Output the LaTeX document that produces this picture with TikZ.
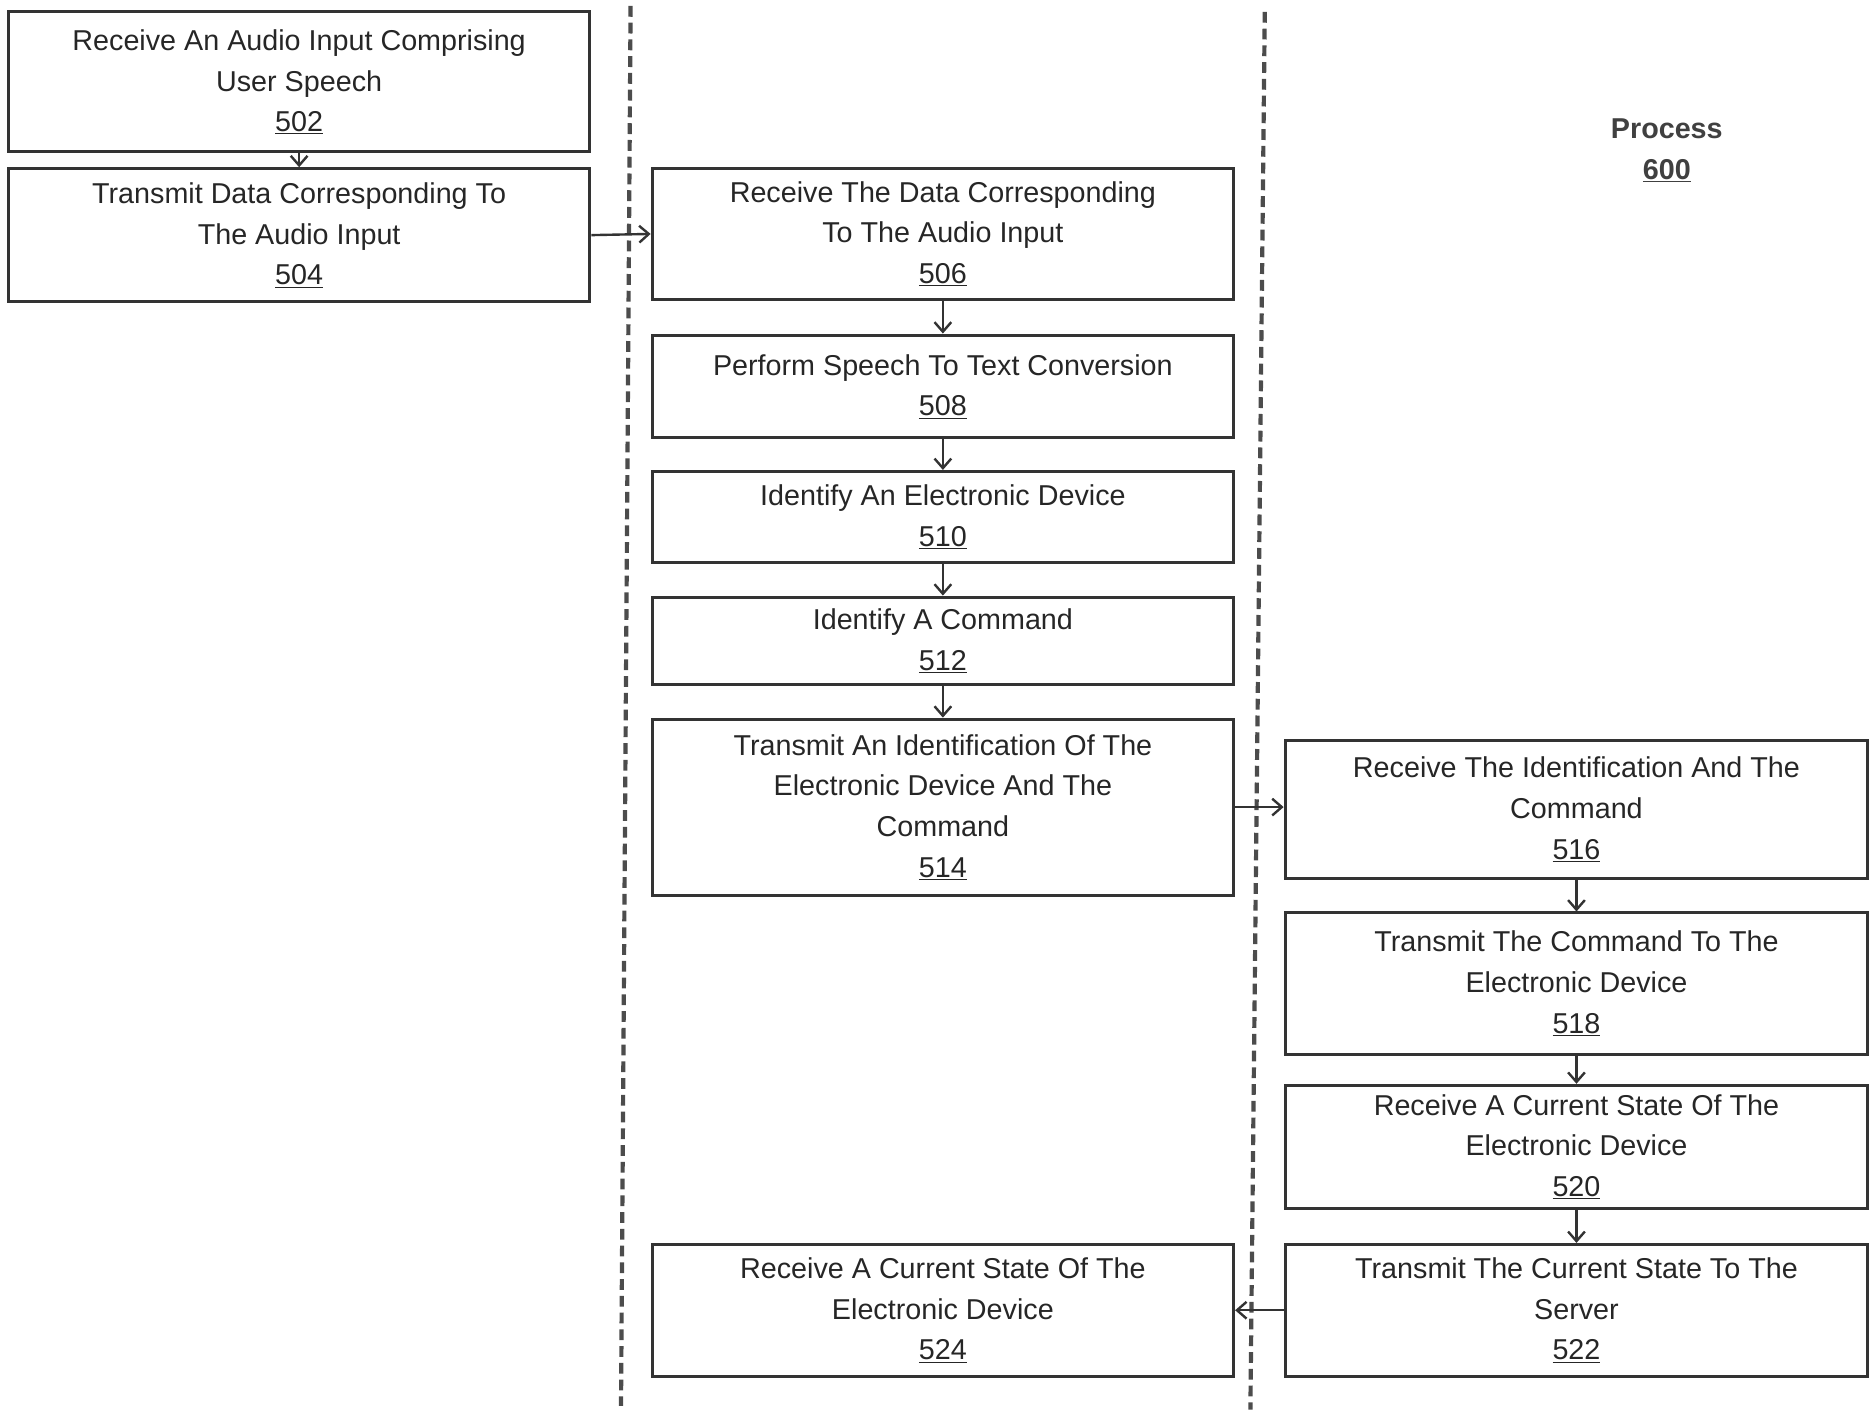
\documentclass[tikz,border=0pt]{standalone}
\usepackage{fontspec}
\setmainfont{Liberation Sans}
\usetikzlibrary{arrows.meta}
\begin{document}
\begin{tikzpicture}[x=1pt,y=-1pt,
  box/.style={draw=black!80,line width=2.5pt,align=center,font=\fontsize{24}{34}\selectfont,text=black!85,inner sep=0pt},
  arr/.style={draw=black!80,line width=2pt,-{Straight Barb[length=8pt,width=14pt]}},
  sep/.style={draw=black!70,line width=3.5pt,dash pattern=on 9pt off 5pt}]
\useasboundingbox (0,0) rectangle (1567,1180);
\tikzset{mk/.code args={#1/#2/#3/#4/#5/#6}{}}
\newcommand{\bx}[6]{\node[box,minimum width=#3-#2,minimum height=#5-#4] (#1) at ({(#2+#3)/2},{(#4+#5)/2}) {#6};}
\bx{n502}{7}{493}{10}{127}{Receive An Audio Input Comprising\\User Speech\\\underline{502}}
\bx{n504}{7}{493}{141}{252}{Transmit Data Corresponding To\\The Audio Input\\\underline{504}}
\bx{n506}{545}{1031}{141}{250}{Receive The Data Corresponding\\To The Audio Input\\\underline{506}}
\bx{n508}{545}{1031}{280}{366}{Perform Speech To Text Conversion\\\underline{508}}
\bx{n510}{545}{1031}{394}{470}{Identify An Electronic Device\\\underline{510}}
\bx{n512}{545}{1031}{499}{572}{Identify A Command\\\underline{512}}
\bx{n514}{545}{1031}{601}{748}{Transmit An Identification Of The\\Electronic Device And The\\Command\\\underline{514}}
\bx{n516}{1074}{1561}{619}{734}{Receive The Identification And The\\Command\\\underline{516}}
\bx{n518}{1074}{1561}{763}{881}{Transmit The Command To The\\Electronic Device\\\underline{518}}
\bx{n520}{1074}{1561}{907}{1010}{Receive A Current State Of The\\Electronic Device\\\underline{520}}
\bx{n522}{1074}{1561}{1040}{1150}{Transmit The Current State To The\\Server\\\underline{522}}
\bx{n524}{545}{1031}{1040}{1150}{Receive A Current State Of The\\Electronic Device\\\underline{524}}
\node[font=\fontsize{24}{34}\selectfont\bfseries,text=black!75,align=center] (p) at (1393,126) {Process\\\underline{600}};
\coordinate (a1) at (527,5); \coordinate (a2) at (519,1175);
\coordinate (b1) at (1057,10); \coordinate (b2) at (1045,1178);
\draw[sep] (a1) -- (a2);
\draw[sep] (b1) -- (b2);
\draw[arr] (n502) -- (n504);
\draw[arr] (n504.east) -- (n506.west);
\draw[arr] (n506) -- (n508);
\draw[arr] (n508) -- (n510);
\draw[arr] (n510) -- (n512);
\draw[arr] (n512) -- (n514);
\draw[arr] (n514.east) -- (n516.west |- n514.east);
\draw[arr] (n516) -- (n518);
\draw[arr] (n518) -- (n520);
\draw[arr] (n520) -- (n522);
\draw[arr] (n522) -- (n524);
\end{tikzpicture}
\end{document}
